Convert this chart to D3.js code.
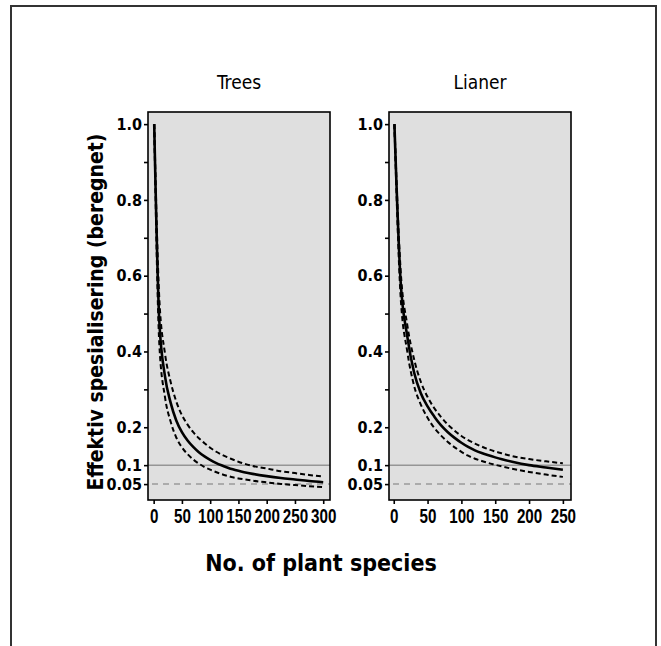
<!DOCTYPE html>
<html>
<head>
<meta charset="utf-8">
<script src="https://cdn.jsdelivr.net/npm/d3@7"></script>
<style>
  body { margin: 0; background: #fff; }
  svg { display: block; }
  .cond { font-family: "DejaVu Sans Condensed", sans-serif; }
  .arial { font-family: "Liberation Sans", Arial, sans-serif; }
</style>
</head>
<body>
<script>

// ---- data -----------------------------------------------------------------
var panelNames = ["Trees", "Lianer"];

var treesX     = [1, 10, 20, 30, 40, 50, 60, 70, 80, 90, 100, 110, 120, 130, 140, 150, 160, 175, 200, 225, 250, 275, 300];
var treesMean  = [1.0, 0.48, 0.335, 0.265, 0.218, 0.187, 0.165, 0.148, 0.134, 0.123, 0.114, 0.106, 0.0995, 0.094, 0.089, 0.085, 0.0815, 0.077, 0.071, 0.066, 0.062, 0.058, 0.055];
var treesLower = [1.0, 0.42, 0.28, 0.215, 0.173, 0.147, 0.129, 0.115, 0.104, 0.095, 0.088, 0.082, 0.0765, 0.072, 0.068, 0.065, 0.0625, 0.059, 0.0545, 0.0505, 0.0475, 0.0445, 0.042];
var treesUpper = [1.0, 0.54, 0.395, 0.32, 0.268, 0.232, 0.207, 0.187, 0.171, 0.158, 0.146, 0.136, 0.128, 0.121, 0.115, 0.109, 0.104, 0.098, 0.091, 0.084, 0.079, 0.074, 0.070];

var lianerX     = [1, 10, 20, 30, 40, 50, 60, 70, 80, 90, 100, 110, 120, 130, 140, 150, 160, 175, 200, 225, 250];
var lianerMean  = [1.0, 0.59, 0.44, 0.345, 0.29, 0.255, 0.228, 0.205, 0.187, 0.172, 0.159, 0.148, 0.139, 0.132, 0.126, 0.1205, 0.1155, 0.109, 0.100, 0.094, 0.088];
var lianerUpper = [1.0, 0.62, 0.47, 0.38, 0.32, 0.28, 0.25, 0.227, 0.207, 0.191, 0.177, 0.166, 0.157, 0.149, 0.142, 0.136, 0.131, 0.124, 0.116, 0.110, 0.105];
var lianerLower = [1.0, 0.55, 0.40, 0.31, 0.26, 0.225, 0.198, 0.178, 0.161, 0.147, 0.135, 0.125, 0.117, 0.111, 0.1055, 0.101, 0.0965, 0.0905, 0.082, 0.075, 0.069];

var treesXTicks  = [0, 50, 100, 150, 200, 250, 300];
var lianerXTicks = [0, 50, 100, 150, 200, 250];
var yTicksLabelled = [1.0, 0.8, 0.6, 0.4, 0.2, 0.1, 0.05];
var yTickLabels    = ["1.0", "0.8", "0.6", "0.4", "0.2", "0.1", "0.05"];
var yTicksMinor    = [0.9, 0.7, 0.5, 0.3];
var refLines = [0.1, 0.05];

var yTitle = "Effektiv spesialisering (beregnet)";
var xTitle = "No. of plant species";

// ---- layout --------------------------------------------------------------
var width = 661, height = 646;

var svg = d3.select("body").append("svg")
    .attr("width", width)
    .attr("height", height);

// outer frame (bottom edge runs off the page)
svg.append("path")
    .attr("d", "M11,660 L11,6 L656,6 L656,660")
    .attr("fill", "none")
    .attr("stroke", "#333")
    .attr("stroke-width", 2);

var panels = [
    {name: panelNames[0], left: 148, right: 330, xDomain: [-10, 312],
     x: treesX, mean: treesMean, upper: treesUpper, lower: treesLower, ticks: treesXTicks},
    {name: panelNames[1], left: 389, right: 571, xDomain: [-7, 262],
     x: lianerX, mean: lianerMean, upper: lianerUpper, lower: lianerLower, ticks: lianerXTicks}
];

var plotTop = 112, plotBottom = 500;

var y = d3.scaleLinear()
    .domain([0.008, 1.032])
    .range([plotBottom, plotTop]);

panels.forEach(function(p, pi){

    var x = d3.scaleLinear()
        .domain(p.xDomain)
        .range([p.left, p.right]);

    var g = svg.append("g");
    var clipId = "clip" + pi;
    var w = p.right - p.left, h = plotBottom - plotTop;

    g.append("clipPath").attr("id", clipId)
        .append("rect")
        .attr("x", p.left).attr("y", plotTop)
        .attr("width", w).attr("height", h);

    // panel background
    g.append("rect")
        .attr("x", p.left).attr("y", plotTop)
        .attr("width", w).attr("height", h)
        .attr("fill", "#dfdfdf");

    // reference lines
    g.append("line")
        .attr("x1", p.left).attr("x2", p.right)
        .attr("y1", y(refLines[0])).attr("y2", y(refLines[0]))
        .attr("stroke", "#959595").attr("stroke-width", 1.5);
    g.append("line")
        .attr("x1", p.left + 4).attr("x2", p.right)
        .attr("y1", y(refLines[1])).attr("y2", y(refLines[1]))
        .attr("stroke", "#9a9a9a").attr("stroke-width", 1.5)
        .attr("stroke-dasharray", "6,5");

    var rows = p.x.map(function(v, i){
        return {x: v, mean: p.mean[i], upper: p.upper[i], lower: p.lower[i]};
    });

    function lineFor(key){
        return d3.line()
            .curve(d3.curveMonotoneX)
            .x(function(d){ return x(d.x); })
            .y(function(d){ return y(d[key]); });
    }

    var curves = g.append("g").attr("clip-path", "url(#" + clipId + ")");

    ["upper", "lower"].forEach(function(k){
        curves.append("path")
            .datum(rows)
            .attr("d", lineFor(k))
            .attr("fill", "none")
            .attr("stroke", "#000")
            .attr("stroke-width", 2)
            .attr("stroke-dasharray", "5,3");
    });

    curves.append("path")
        .datum(rows)
        .attr("d", lineFor("mean"))
        .attr("fill", "none")
        .attr("stroke", "#000")
        .attr("stroke-width", 2.6);

    // panel border
    g.append("rect")
        .attr("x", p.left).attr("y", plotTop)
        .attr("width", w).attr("height", h)
        .attr("fill", "none")
        .attr("stroke", "#000")
        .attr("stroke-width", 1.6);

    // y axis
    var yAxis = d3.axisLeft(y)
        .tickValues(yTicksLabelled)
        .tickSize(4)
        .tickPadding(2)
        .tickFormat(function(d, i){ return yTickLabels[i]; });

    var ya = g.append("g")
        .attr("transform", "translate(" + p.left + ",0)")
        .call(yAxis);
    ya.select(".domain").remove();
    ya.selectAll("line").attr("stroke-width", 1.6);
    ya.selectAll("text")
        .attr("class", "cond")
        .attr("font-size", 16)
        .attr("font-weight", "bold")
        .attr("fill", "#000");

    var yMinor = g.append("g")
        .attr("transform", "translate(" + p.left + ",0)")
        .call(d3.axisLeft(y).tickValues(yTicksMinor).tickSize(4).tickFormat(""));
    yMinor.select(".domain").remove();
    yMinor.selectAll("line").attr("stroke-width", 1.6);

    // x axis (labels squeezed horizontally to mimic a condensed face)
    var xa = g.append("g")
        .attr("transform", "translate(0," + plotBottom + ")")
        .call(d3.axisBottom(x).tickValues(p.ticks).tickSize(4).tickPadding(5));
    xa.select(".domain").remove();
    xa.selectAll("line").attr("stroke-width", 1.6);
    xa.selectAll("text")
        .attr("class", "arial")
        .attr("font-size", 20)
        .attr("font-weight", "bold")
        .attr("fill", "#000")
        .attr("transform", "scale(0.76,1)");

    // panel title
    g.append("text")
        .attr("class", "cond")
        .attr("x", (p.left + p.right) / 2)
        .attr("y", 89)
        .attr("text-anchor", "middle")
        .attr("font-size", 19)
        .attr("fill", "#000")
        .text(p.name);
});

// axis titles
svg.append("text")
    .attr("class", "cond")
    .attr("transform", "translate(103,312) rotate(-90)")
    .attr("text-anchor", "middle")
    .attr("font-size", 21)
    .attr("font-weight", "bold")
    .text(yTitle);

svg.append("text")
    .attr("class", "cond")
    .attr("x", 321)
    .attr("y", 571)
    .attr("text-anchor", "middle")
    .attr("font-size", 23)
    .attr("font-weight", "bold")
    .text(xTitle);

</script>
</body>
</html>
